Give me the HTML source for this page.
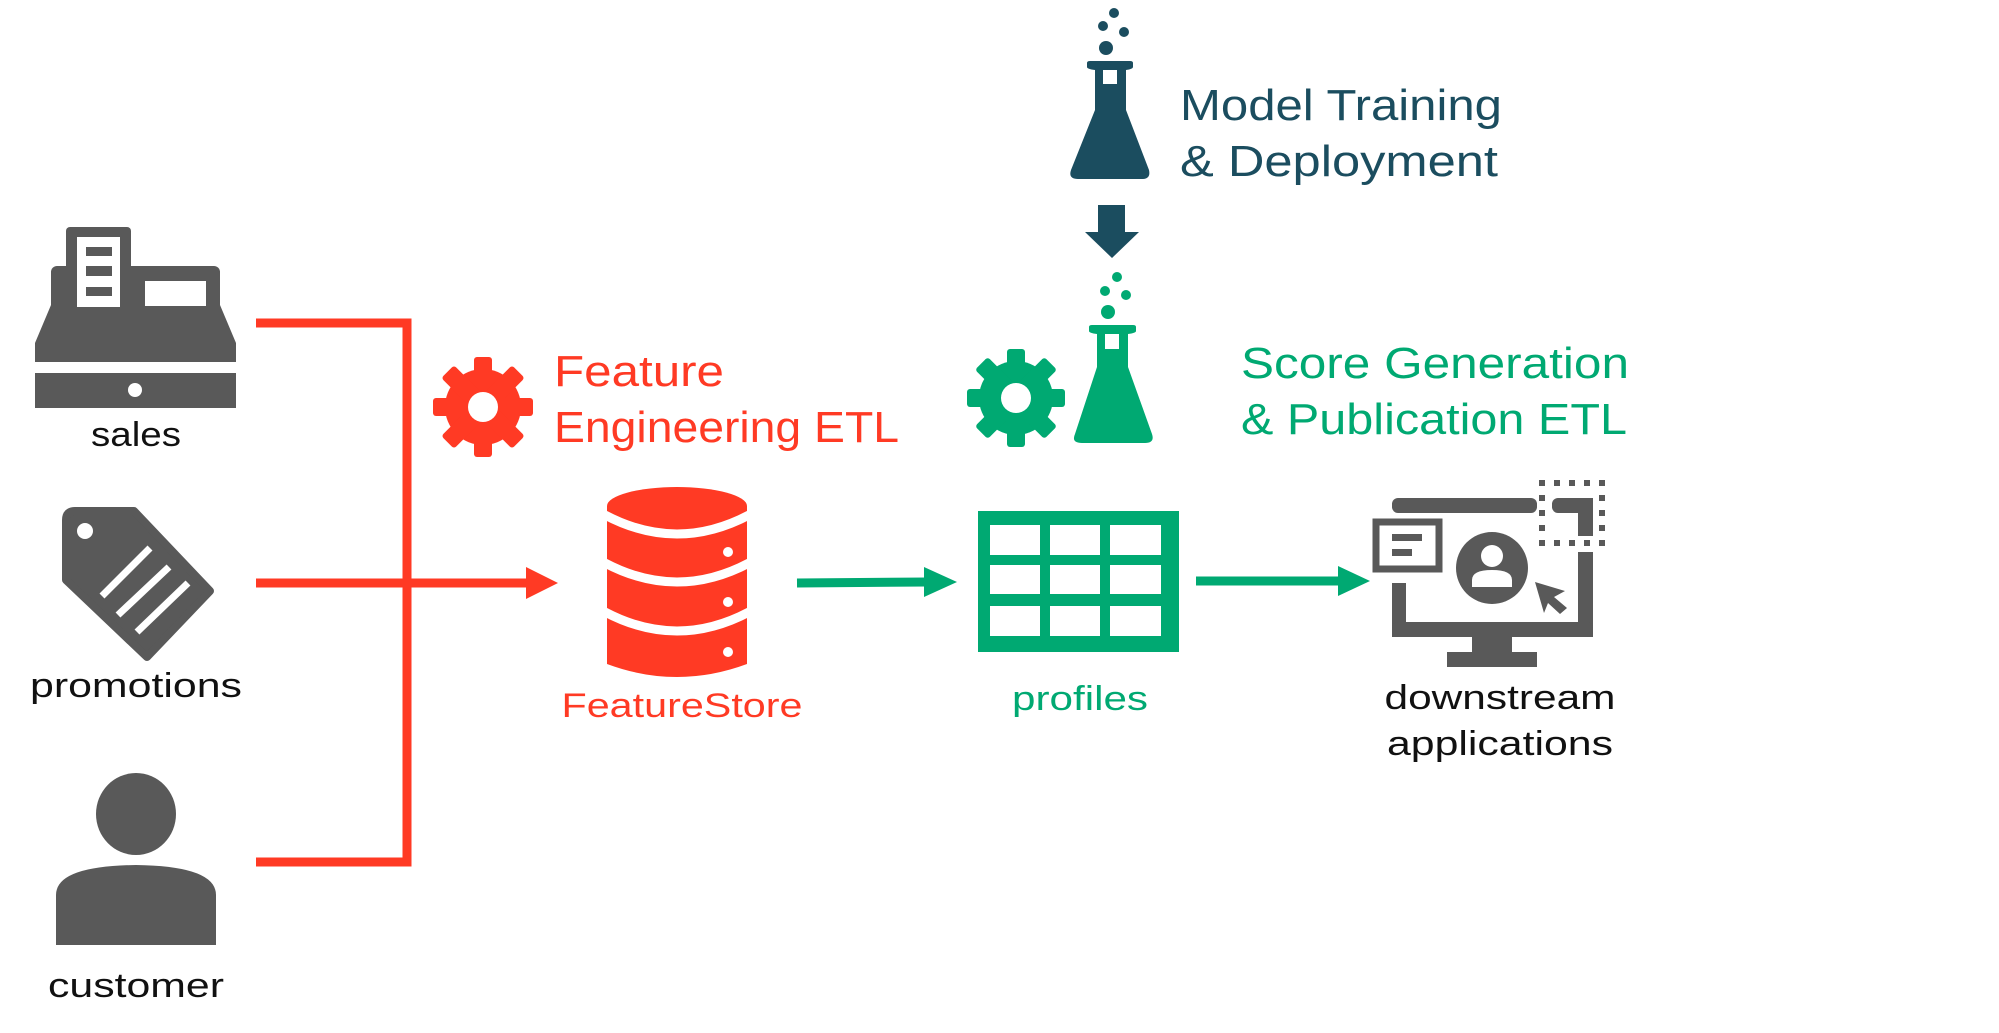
<!DOCTYPE html>
<html><head><meta charset="utf-8"><style>
html,body{margin:0;padding:0;background:#fff;}
svg{display:block;}
text{font-family:"Liberation Sans",sans-serif;}
</style></head><body>
<svg width="1999" height="1033" viewBox="0 0 1999 1033" xmlns="http://www.w3.org/2000/svg">
<rect width="1999" height="1033" fill="#fff"/>

<!-- Cash register -->
<g fill="#595959">
  <rect x="66" y="227" width="65" height="80" rx="4"/>
  <rect x="51" y="266" width="169" height="50" rx="6"/>
  <polygon points="51,305 220,305 236,343 236,362 35,362 35,343"/>
  <rect x="35" y="373" width="201" height="35"/>
</g>
<rect x="77" y="237" width="43" height="70" fill="#fff"/>
<g fill="#595959">
  <rect x="86" y="247" width="26" height="9"/>
  <rect x="86" y="266" width="26" height="10"/>
  <rect x="86" y="287" width="26" height="9"/>
</g>
<rect x="145" y="281" width="61" height="25" fill="#fff"/>
<circle cx="135" cy="390" r="7" fill="#fff"/>
<text x="136" y="446" font-size="34" text-anchor="middle" fill="#111" textLength="90" lengthAdjust="spacingAndGlyphs">sales</text>

<!-- Tag -->
<path d="M66,520 Q66,511 75,511 L134,511 L210,591 L147,657 L66,580 Z" fill="#595959" stroke="#595959" stroke-width="8" stroke-linejoin="round"/>
<circle cx="85" cy="531" r="8" fill="#fff"/>
<g stroke="#fff" stroke-width="7">
  <line x1="102" y1="596" x2="150" y2="548"/>
  <line x1="118" y1="615" x2="169" y2="567"/>
  <line x1="137" y1="632" x2="188" y2="583"/>
</g>
<text x="136" y="697" font-size="34" text-anchor="middle" fill="#111" textLength="212" lengthAdjust="spacingAndGlyphs">promotions</text>

<!-- Customer -->
<ellipse cx="136" cy="814" rx="40" ry="41" fill="#595959"/>
<path d="M56,945 L56,895 Q56,866 136,865 Q216,866 216,895 L216,945 Z" fill="#595959"/>
<text x="136" y="997" font-size="34" text-anchor="middle" fill="#111" textLength="176" lengthAdjust="spacingAndGlyphs">customer</text>

<!-- Red connectors -->
<g stroke="#FF3A24" stroke-width="9" fill="none">
  <polyline points="256,323 407,323 407,862 256,862"/>
  <line x1="256" y1="583" x2="530" y2="583"/>
</g>
<polygon points="526,567 558,583 526,599" fill="#FF3A24"/>

<!-- Red gear -->
<g fill="#FF3A24" transform="translate(483,407)">
  <circle r="38"/>
  <rect x="-9" y="-50" width="18" height="100" rx="3"/>
  <rect x="-9" y="-50" width="18" height="100" rx="3" transform="rotate(45)"/>
  <rect x="-9" y="-50" width="18" height="100" rx="3" transform="rotate(90)"/>
  <rect x="-9" y="-50" width="18" height="100" rx="3" transform="rotate(135)"/>
  <circle r="15" fill="#fff"/>
</g>
<text x="554" y="386" font-size="44" fill="#FF3A24" textLength="170" lengthAdjust="spacingAndGlyphs">Feature</text>
<text x="554" y="442" font-size="44" fill="#FF3A24" textLength="345" lengthAdjust="spacingAndGlyphs">Engineering ETL</text>

<!-- Database -->
<path d="M607,506 A70,19 0 0 1 747,506 L747,664 Q677,690 607,664 Z" fill="#FF3A24"/>
<g stroke="#fff" stroke-width="9" fill="none">
  <path d="M605,515 Q677,553 749,515"/>
  <path d="M605,563 Q677,601 749,563"/>
  <path d="M605,612 Q677,650 749,612"/>
</g>
<g fill="#fff">
  <circle cx="728" cy="552" r="5"/>
  <circle cx="728" cy="602" r="5"/>
  <circle cx="728" cy="652" r="5"/>
</g>
<text x="682" y="717" font-size="34" text-anchor="middle" fill="#FF3A24" textLength="241" lengthAdjust="spacingAndGlyphs">FeatureStore</text>

<!-- Green arrow 1 -->
<line x1="797" y1="583" x2="928" y2="582" stroke="#00A972" stroke-width="9"/>
<polygon points="924,567 957,582 924,597" fill="#00A972"/>

<!-- Grid -->
<rect x="978" y="511" width="201" height="141" fill="#00A972"/>
<g fill="#fff">
  <rect x="990" y="525" width="50" height="30"/><rect x="1050" y="525" width="50" height="30"/><rect x="1110" y="525" width="51" height="30"/>
  <rect x="990" y="565" width="50" height="29"/><rect x="1050" y="565" width="50" height="29"/><rect x="1110" y="565" width="51" height="29"/>
  <rect x="990" y="606" width="50" height="30"/><rect x="1050" y="606" width="50" height="30"/><rect x="1110" y="606" width="51" height="30"/>
</g>
<text x="1080" y="710" font-size="34" text-anchor="middle" fill="#00A972" textLength="136" lengthAdjust="spacingAndGlyphs">profiles</text>

<!-- Green arrow 2 -->
<line x1="1196" y1="581" x2="1342" y2="581" stroke="#00A972" stroke-width="9"/>
<polygon points="1338,566 1370,581 1338,596" fill="#00A972"/>

<!-- Monitor -->
<g fill="#595959">
  <rect x="1392" y="498" width="145" height="15" rx="6"/>
  <rect x="1552" y="498" width="41" height="15" rx="6"/>
  <rect x="1578" y="498" width="15" height="38"/>
  <rect x="1578" y="552" width="15" height="85"/>
  <rect x="1392" y="583" width="14" height="54"/>
  <rect x="1392" y="622" width="201" height="15" rx="6"/>
  <rect x="1472" y="636" width="40" height="17"/>
  <rect x="1447" y="652" width="90" height="15"/>
</g>
<g fill="#595959">
  <rect x="1539" y="480" width="6" height="6"/><rect x="1554" y="480" width="6" height="6"/><rect x="1569" y="480" width="6" height="6"/><rect x="1584" y="480" width="6" height="6"/><rect x="1599" y="480" width="6" height="6"/>
  <rect x="1539" y="495" width="6" height="6"/><rect x="1599" y="495" width="6" height="6"/>
  <rect x="1539" y="510" width="6" height="6"/><rect x="1599" y="510" width="6" height="6"/>
  <rect x="1539" y="525" width="6" height="6"/><rect x="1599" y="525" width="6" height="6"/>
  <rect x="1539" y="540" width="6" height="6"/><rect x="1554" y="540" width="6" height="6"/><rect x="1569" y="540" width="6" height="6"/><rect x="1584" y="540" width="6" height="6"/><rect x="1599" y="540" width="6" height="6"/>
</g>
<rect x="1376" y="522" width="63" height="47" fill="#fff" stroke="#595959" stroke-width="7"/>
<rect x="1392" y="534" width="30" height="7" fill="#595959"/>
<rect x="1392" y="549" width="20" height="7" fill="#595959"/>
<circle cx="1492" cy="568" r="36" fill="#595959"/>
<circle cx="1492" cy="556" r="11" fill="#fff"/>
<path d="M1472,587 L1472,580 Q1472,570 1492,570 Q1512,570 1512,580 L1512,587 Z" fill="#fff"/>
<polygon points="1535,582 1565,591 1554,597 1567,608 1560,614 1548,603 1544,613" fill="#595959"/>
<text x="1500" y="709" font-size="34" text-anchor="middle" fill="#111" textLength="231" lengthAdjust="spacingAndGlyphs">downstream</text>
<text x="1500" y="755" font-size="34" text-anchor="middle" fill="#111" textLength="226" lengthAdjust="spacingAndGlyphs">applications</text>

<!-- Dark flask -->
<g fill="#1B4D5F">
  <circle cx="1114" cy="13" r="5"/>
  <circle cx="1103" cy="26" r="5"/>
  <circle cx="1124" cy="32" r="5"/>
  <circle cx="1106" cy="48" r="7"/>
  <path d="M1087,63 Q1087,61 1090,61 L1130,61 Q1133,61 1133,63 L1133,67 Q1133,69 1126,70 L1126,110 L1149,170 Q1151,179 1142,179 L1078,179 Q1068,179 1071,170 L1095,110 L1095,70 Q1087,69 1087,67 Z"/>
</g>
<rect x="1103" y="70" width="14" height="14" fill="#fff"/>
<text x="1180" y="120" font-size="44" fill="#1B4D5F" textLength="322" lengthAdjust="spacingAndGlyphs">Model Training</text>
<text x="1180" y="176" font-size="44" fill="#1B4D5F" textLength="318" lengthAdjust="spacingAndGlyphs">&amp; Deployment</text>

<!-- Dark arrow -->
<rect x="1098" y="205" width="27" height="28" fill="#1B4D5F"/>
<polygon points="1085,232 1139,232 1112,258" fill="#1B4D5F"/>

<!-- Green flask -->
<g fill="#00A972">
  <circle cx="1117" cy="277" r="5"/>
  <circle cx="1105" cy="291" r="5"/>
  <circle cx="1126" cy="295" r="5"/>
  <circle cx="1108" cy="312" r="7"/>
  <path d="M1089,327 Q1089,325 1092,325 L1133,325 Q1136,325 1136,327 L1136,331 Q1136,333 1128,334 L1128,367 L1152,434 Q1155,443 1145,443 L1082,443 Q1071,443 1075,434 L1097,367 L1097,334 Q1089,333 1089,331 Z"/>
</g>
<rect x="1105" y="334" width="14" height="15" fill="#fff"/>

<!-- Green gear -->
<g fill="#00A972" transform="translate(1016,398)">
  <circle r="37"/>
  <rect x="-9" y="-49" width="18" height="98" rx="3"/>
  <rect x="-9" y="-49" width="18" height="98" rx="3" transform="rotate(45)"/>
  <rect x="-9" y="-49" width="18" height="98" rx="3" transform="rotate(90)"/>
  <rect x="-9" y="-49" width="18" height="98" rx="3" transform="rotate(135)"/>
  <circle r="15" fill="#fff"/>
</g>
<text x="1241" y="378" font-size="44" fill="#00A972" textLength="388" lengthAdjust="spacingAndGlyphs">Score Generation</text>
<text x="1241" y="434" font-size="44" fill="#00A972" textLength="386" lengthAdjust="spacingAndGlyphs">&amp; Publication ETL</text>
</svg>
</body></html>
